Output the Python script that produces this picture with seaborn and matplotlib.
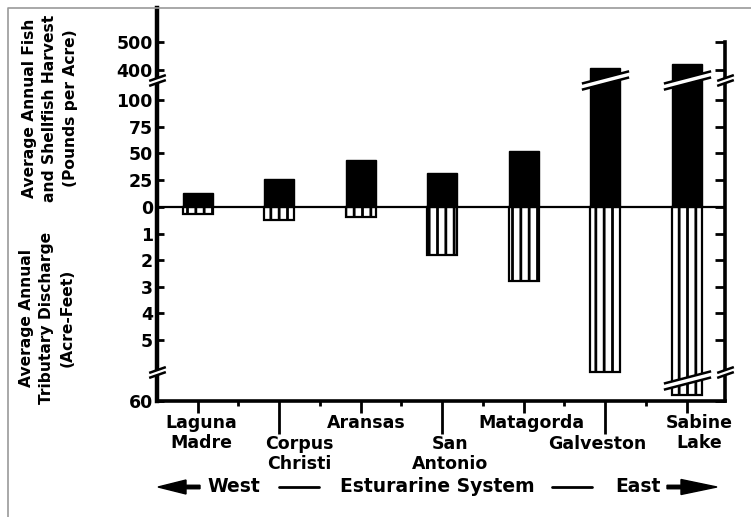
import numpy as np
import pandas as pd
import matplotlib
matplotlib.use('Agg')
from matplotlib import pyplot as plt
from matplotlib import transforms as mtransforms
from matplotlib.path import Path
from matplotlib.patches import FancyArrow
from matplotlib.lines import Line2D
import seaborn as sns

# data
sites = ['Laguna Madre', 'Corpus Christi', 'Aransas', 'San Antonio',
         'Matagorda', 'Galveston', 'Sabine Lake']
xtick_labels = ['Laguna\nMadre', 'Corpus\nChristi', 'Aransas', 'San\nAntonio',
                'Matagorda', 'Galveston', 'Sabine\nLake']
lowered = [False, True, False, True, False, True, False]
harvest = [13, 26, 44, 32, 52, 405, 420]          # pounds per acre
discharge = [0.28, 0.5, 0.36, 1.8, 2.8, 6.2, 58]  # acre-feet
ytick_vals = [500, 400, 100, 75, 50, 25, 0, -1, -2, -3, -4, -5, -60]
ytick_labels = ['500', '400', '100', '75', '50', '25', '0', '1', '2', '3', '4', '5', '60']

sns.set_theme(style='ticks')
plt.rcParams['font.family'] = ['DejaVu Sans']
plt.rcParams['font.weight'] = 'bold'
plt.rcParams['text.color'] = 'black'
plt.rcParams['hatch.linewidth'] = 2.0

df = pd.DataFrame({'site': sites, 'harvest': harvest,
                   'discharge': [-d for d in discharge]})

fig = plt.figure(figsize=(7.51, 5.17), dpi=100)
ax = fig.add_axes([157/751, 1-401/517, 568/751, 393/517])

sns.barplot(data=df, x='site', y='harvest', color='black', saturation=1,
            width=0.37, edgecolor='black', linewidth=1, errorbar=None, ax=ax, zorder=3)
sns.barplot(data=df, x='site', y='discharge', color='white', saturation=1,
            width=0.37, edgecolor='black', linewidth=1.6, hatch='||',
            errorbar=None, ax=ax, zorder=3)

# broken axis: piecewise linear scale (harvest up, discharge down)
val_pts = [-60, -55, -6.5, 0, 100, 400, 500, 700]
pix_pts = [-194, -180, -173, 0, 107, 137, 165, 221]
def fwd(v):
    return np.interp(v, val_pts, pix_pts)
def inv(p):
    return np.interp(p, pix_pts, val_pts)
ax.set_yscale('function', functions=(fwd, inv))
ax.set_ylim(-60, 621)
ax.set_xlim(-0.5, 6.47)

ax.axhline(0, color='black', lw=1.6, zorder=4)

ax.set_yticks(ytick_vals)
ax.set_yticklabels(ytick_labels)
ax.set_xticks(range(len(sites)))
ax.set_xticklabels(xtick_labels)
ax.set_xticks([i + 0.5 for i in range(len(sites) - 1)], minor=True)
ax.set_xlabel('')
ax.set_ylabel('')

ax.tick_params(axis='y', which='major', direction='in', length=5, width=2,
               left=True, right=True, labelsize=12.5, pad=3, colors='black')
ax.tick_params(axis='x', which='major', direction='out', length=8.5, width=2,
               labelsize=12.5, pad=1, colors='black')
ax.tick_params(axis='x', which='minor', direction='out', length=3.6, width=2,
               bottom=True, colors='black')

ax.spines['top'].set_visible(False)
ax.spines['left'].set_linewidth(3.2)
ax.spines['bottom'].set_linewidth(2.6)
ax.spines['right'].set_linewidth(2.6)
ax.spines['right'].set_bounds(-60, 500)
for s in ax.spines.values():
    s.set_color('black')

# right ticks a bit longer, lowered labels get long ticks
for t in ax.yaxis.get_major_ticks():
    t.tick2line.set_markersize(7)
label_dx = [4, 20, 6, 8, 8, -8, 13]
for i, t in enumerate(ax.xaxis.get_major_ticks()):
    dy = 0
    if lowered[i]:
        t.tick1line.set_markersize(24)
        dy = -0.205
    t.label1.set_transform(t.label1.get_transform() +
                           mtransforms.ScaledTranslation(label_dx[i]/100, dy, fig.dpi_scale_trans))
    t.label1.set_linespacing(1.15)

# break marks
def slash(slope, gap):
    fill = Path([(-1, -slope-gap), (1, slope-gap), (1, slope+gap), (-1, -slope+gap), (-1, -slope-gap)],
                closed=True)
    lines = Path([(-1, -slope-gap), (1, slope-gap), (-1, -slope+gap), (1, slope+gap)],
                 [Path.MOVETO, Path.LINETO, Path.MOVETO, Path.LINETO])
    return fill, lines

bar_fill, bar_lines = slash(0.26, 0.13)
up_idx = [i for i, h in enumerate(harvest) if h > 100]
lo_idx = [i for i, d in enumerate(discharge) if d > 10]
for xs, yv in [(up_idx, 300), (lo_idx, -10)]:
    ax.plot(xs, [yv]*len(xs), ls='none', marker=bar_fill, ms=34, mfc='white', mec='none',
            zorder=6, clip_on=False)
    ax.plot(xs, [yv]*len(xs), ls='none', marker=bar_lines, ms=34, mfc='none', mec='black',
            mew=1.8, zorder=7, clip_on=False)

sp_fill, sp_lines = slash(0.35, 0.3)
ytr = ax.get_yaxis_transform()
for yv in [300, -6.2]:
    ax.plot([0, 1], [yv, yv], ls='none', marker=sp_fill, ms=12, mfc='white', mec='none',
            transform=ytr, zorder=6, clip_on=False)
    ax.plot([0, 1], [yv, yv], ls='none', marker=sp_lines, ms=12, mfc='none', mec='black',
            mew=1.8, transform=ytr, zorder=7, clip_on=False)

# axis titles
fig.text(50/751, 1-108/517, 'Average Annual Fish\nand Shellfish Harvest\n(Pounds per Acre)',
         rotation=90, ha='center', va='center', multialignment='center', fontsize=11.2,
         linespacing=1.42, color='black')
fig.text(47/751, 1-318/517, 'Average Annual\nTributary Discharge\n(Acre-Feet)',
         rotation=90, ha='center', va='center', multialignment='center', fontsize=11.2,
         linespacing=1.42, color='black')

# bottom direction legend
inch = fig.dpi_scale_trans
fig.text(2.07, 0.25, 'West', transform=inch, ha='left', va='baseline', fontsize=13.5, color='black')
fig.text(4.37, 0.25, 'Esturarine System', transform=inch, ha='center', va='baseline',
         fontsize=13.5, color='black')
fig.text(6.38, 0.25, 'East', transform=inch, ha='center', va='baseline', fontsize=13.5, color='black')
fig.add_artist(Line2D([2.79, 3.19], [0.30, 0.30], transform=inch, color='black', lw=2))
fig.add_artist(Line2D([5.52, 5.92], [0.30, 0.30], transform=inch, color='black', lw=2))
fig.add_artist(FancyArrow(2.00, 0.30, -0.42, 0, width=0.035, head_width=0.14, head_length=0.28,
                          length_includes_head=True, transform=inch, color='black'))
fig.add_artist(FancyArrow(6.67, 0.30, 0.50, 0, width=0.035, head_width=0.15, head_length=0.36,
                          length_includes_head=True, transform=inch, color='black'))

# thin frame on left and top
fig.add_artist(Line2D([8/751, 8/751, 1], [0, 1-8/517, 1-8/517], transform=fig.transFigure,
                      color='#999999', lw=1.2))

fig.savefig('out.png', dpi=100)
